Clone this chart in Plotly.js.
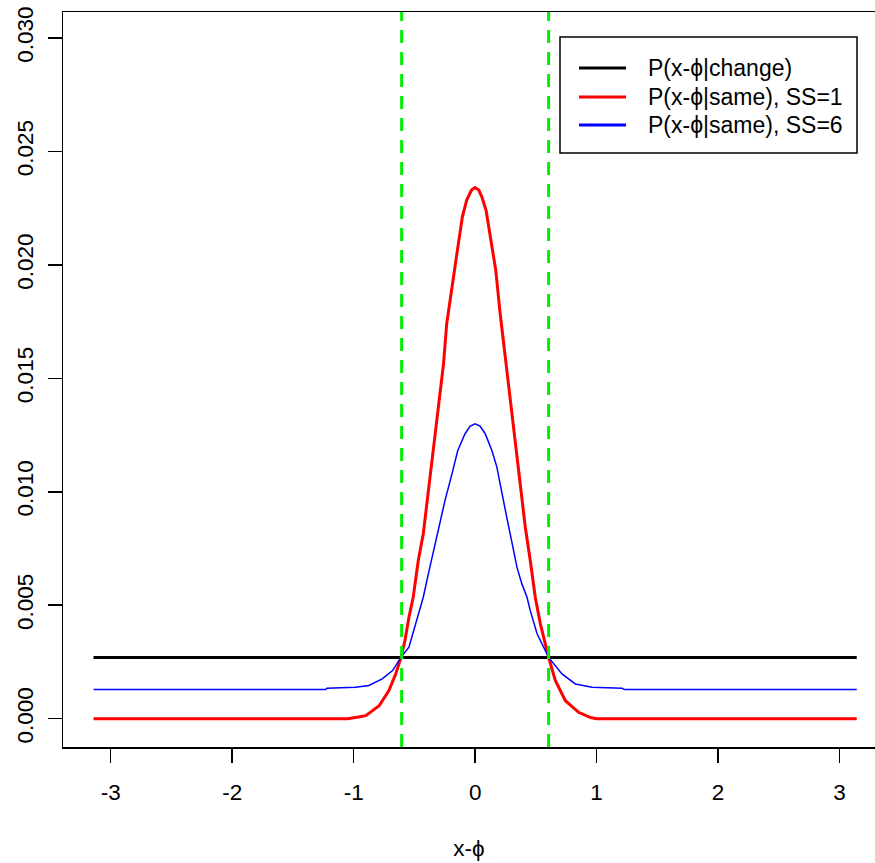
<!DOCTYPE html>
<html>
<head>
<meta charset="utf-8">
<script src="https://cdn.plot.ly/plotly-3.0.1.min.js"></script>
<style>html,body{margin:0;padding:0;background:#fff;}#chart{width:875px;height:863px;}</style>
</head>
<body>
<div id="chart"></div>
<script>
// ---- data ----
const changeX = [-3.1416, 3.1416];
const changeY = [0.0027, 0.0027];

const ss1X = [-3.1416, -1.05, -0.95, -0.90, -0.79, -0.71, -0.654, -0.61, -0.578, -0.545, -0.51, -0.468, -0.427, -0.385, -0.33, -0.30, -0.26, -0.234, -0.187, -0.15, -0.105, -0.07, -0.03, 0, 0.03, 0.055, 0.09, 0.132, 0.17, 0.206, 0.248, 0.29, 0.33, 0.371, 0.413, 0.454, 0.495, 0.537, 0.605, 0.66, 0.743, 0.852, 0.95, 1.0, 3.1416];
const ss1Y = [0, 0, 0.00008, 0.00013, 0.00057, 0.00124, 0.00197, 0.0027, 0.00344, 0.00447, 0.00535, 0.00697, 0.00815, 0.01006, 0.01256, 0.01388, 0.01565, 0.01741, 0.01903, 0.0205, 0.02212, 0.02285, 0.0233, 0.02341, 0.0233, 0.0230, 0.02241, 0.02095, 0.01976, 0.01785, 0.01594, 0.01403, 0.01226, 0.0102, 0.00844, 0.00697, 0.00535, 0.00418, 0.0027, 0.00168, 0.00079, 0.00028, 0.00005, 0, 0];

const ss6X = [-3.1416, -1.23, -1.22, -0.985, -0.875, -0.765, -0.68, -0.61, -0.545, -0.49, -0.427, -0.385, -0.33, -0.289, -0.248, -0.19, -0.143, -0.083, -0.04, 0, 0.04, 0.083, 0.138, 0.179, 0.22, 0.26, 0.30, 0.344, 0.385, 0.427, 0.454, 0.51, 0.605, 0.715, 0.825, 0.963, 1.21, 1.23, 3.1416];
const ss6Y = [0.00128, 0.00128, 0.00134, 0.00138, 0.00146, 0.00175, 0.00212, 0.0027, 0.00315, 0.00418, 0.00535, 0.00638, 0.00771, 0.00874, 0.00962, 0.0108, 0.01182, 0.01256, 0.0129, 0.0130, 0.0129, 0.01256, 0.01182, 0.01109, 0.00991, 0.00888, 0.00785, 0.00668, 0.00594, 0.00535, 0.00476, 0.00374, 0.0027, 0.00197, 0.00153, 0.00138, 0.00134, 0.00128, 0.00128];

const cutoffs = [-0.605, 0.605];

const seriesNames = ["P(x-\u03d5|change)", "P(x-\u03d5|same), SS=1", "P(x-\u03d5|same), SS=6"];
const seriesColors = ["#000000", "#ff0000", "#0000ff"];
const xTickVals = [-3, -2, -1, 0, 1, 2, 3];
const yTickVals = [0, 0.005, 0.010, 0.015, 0.020, 0.025, 0.030];
const xTitle = "x-\u03d5";

// ---- chart ----
const FONT = "Liberation Sans, Arial, sans-serif";
const yRange = [-0.00125, 0.03115];
const M = {l: 63, r: 0, t: 12, b: 116};
const W = 875, H = 863;
const PW = W - M.l - M.r, PH = H - M.t - M.b;
const px2x = p => (p - M.l) / PW;
const py2y = p => (H - M.b - p) / PH;

const traces = [
  {x: changeX, y: changeY, mode: "lines", name: seriesNames[0], line: {color: seriesColors[0], width: 3}},
  {x: ss1X, y: ss1Y, mode: "lines", name: seriesNames[1], line: {color: seriesColors[1], width: 3}},
  {x: ss6X, y: ss6Y, mode: "lines", name: seriesNames[2], line: {color: seriesColors[2], width: 1.5}}
];

const shapes = cutoffs.map(c => ({
  type: "line", xref: "x", yref: "y", x0: c, x1: c, y0: yRange[0], y1: yRange[1],
  line: {color: "#00ee00", width: 3, dash: "13px,9px"}, layer: "above"
}));

// manual legend (R style)
shapes.push({
  type: "rect", xref: "paper", yref: "paper",
  x0: px2x(560), x1: px2x(857), y0: py2y(153), y1: py2y(37),
  fillcolor: "#ffffff", line: {color: "#000000", width: 1.5}, layer: "above"
});
const rowY = [68, 97, 125];
const annotations = [];
seriesNames.forEach((n, i) => {
  shapes.push({
    type: "line", xref: "paper", yref: "paper",
    x0: px2x(579), x1: px2x(626), y0: py2y(rowY[i]), y1: py2y(rowY[i]),
    line: {color: seriesColors[i], width: 3}, layer: "above"
  });
  annotations.push({
    xref: "paper", yref: "paper", x: px2x(646), y: py2y(rowY[i]),
    xanchor: "left", yanchor: "middle", showarrow: false, text: n,
    font: {family: FONT, size: 23, color: "#000000"}
  });
});

const layout = {
  width: W, height: H,
  margin: M,
  paper_bgcolor: "#ffffff", plot_bgcolor: "#ffffff",
  font: {family: FONT, size: 22.5, color: "#000000"},
  showlegend: false,
  xaxis: {
    range: [-3.393, 3.292], tickvals: xTickVals, ticktext: xTickVals.map(String),
    showgrid: false, zeroline: false, showline: true, mirror: true,
    linecolor: "#000000", linewidth: 1.5,
    ticks: "outside", ticklen: 14, tickwidth: 1.5, tickcolor: "#000000",
    ticklabelstandoff: 10,
    tickfont: {family: FONT, size: 22.5},
    title: {text: xTitle, font: {family: FONT, size: 22.5}, standoff: 36},
    automargin: false
  },
  yaxis: {
    range: yRange, tickvals: yTickVals, ticktext: yTickVals.map(v => v.toFixed(3)),
    showgrid: false, zeroline: false, showline: true, mirror: false,
    linecolor: "#000000", linewidth: 1.5,
    ticks: "outside", ticklen: 14, tickwidth: 1.5, tickcolor: "#000000",
    tickangle: -90, ticklabelstandoff: 6,
    tickfont: {family: FONT, size: 22.5},
    automargin: false
  },
  shapes: shapes,
  annotations: annotations
};

Plotly.newPlot("chart", traces, layout, {displayModeBar: false, staticPlot: true});
</script>
</body>
</html>
